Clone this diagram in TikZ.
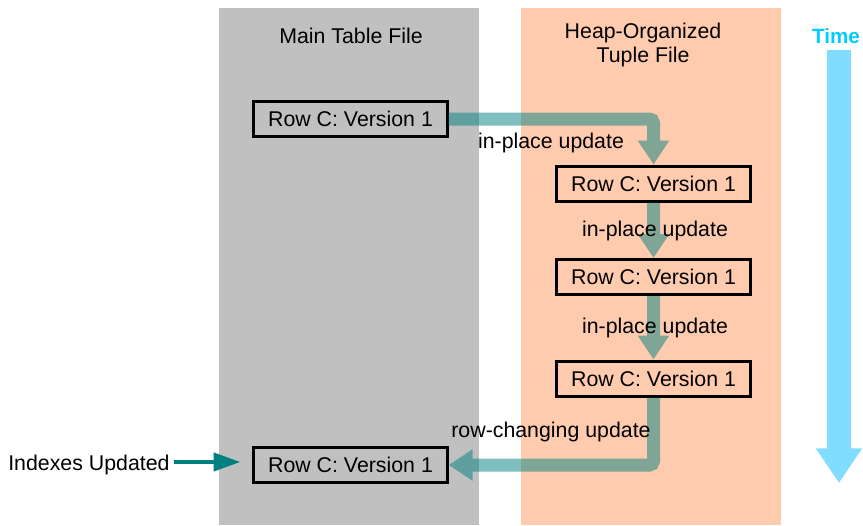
\documentclass[tikz,border=0pt]{standalone}
\usepackage{fontspec}
\setmainfont{Liberation Sans}
\usetikzlibrary{arrows.meta}
\definecolor{colgray}{HTML}{C0C0C0}
\definecolor{colpeach}{HTML}{FFCBAF}
\definecolor{tealc}{HTML}{008080}
\definecolor{timeblue}{HTML}{80DDFF}
\definecolor{timetext}{HTML}{00CCFF}
\begin{document}
\begin{tikzpicture}[x=0.75pt,y=-0.75pt,
  every node/.style={font=\fontsize{16}{18}\selectfont},
  rowbox/.style={draw=black,line width=2.25pt,minimum width=145pt,minimum height=26.25pt,inner sep=0pt},
  lbl/.style={inner sep=0pt},
  updarrow/.style={draw=tealc,line width=9.75pt,rounded corners=3pt,-{Triangle[length=18pt,width=22.5pt]}},
  idxarrow/.style={draw=tealc,line width=3pt,-{Triangle[length=20pt,width=13.5pt]}},
  timearrow/.style={draw=timeblue,line width=18pt,-{Triangle[length=26pt,width=33pt]}}]
\useasboundingbox (0,0) rectangle (863,525);
% columns
\fill[colgray] (219,8) rectangle (479,525);
\fill[colpeach] (521,8) rectangle (781,525);
\node[lbl] (hmain) at (351,36) {Main Table File};
\node[lbl,align=center] (hheap) at (643,45) {Heap-Organized\\Tuple File};
% time
\node[lbl,font=\fontsize{15.5}{18}\selectfont\bfseries,text=timetext] (time) at (836,36) {Time};
\coordinate (ttop) at (839,50);
\coordinate (tbot) at (839,483);
\draw[timearrow] (ttop) -- (tbot);
% boxes
\node[rowbox] (b1) at (350.5,119) {Row C: Version 1};
\node[rowbox] (b2) at (653.5,183.5) {Row C: Version 1};
\node[rowbox] (b3) at (653.5,277) {Row C: Version 1};
\node[rowbox] (b4) at (653.5,378.5) {Row C: Version 1};
\node[rowbox] (b5) at (350.5,465) {Row C: Version 1};
% update arrows
\begin{scope}[transparency group,opacity=0.5]
\draw[updarrow] (b1.east) -| (b2.north);
\end{scope}
\begin{scope}[transparency group,opacity=0.5]
\draw[updarrow] (b2.south) -- (b3.north);
\end{scope}
\begin{scope}[transparency group,opacity=0.5]
\draw[updarrow] (b3.south) -- (b4.north);
\end{scope}
\begin{scope}[transparency group,opacity=0.5]
\draw[updarrow] (b4.south) |- (b5.east);
\end{scope}
\node[lbl] (l1) at (551,143) {in-place update};
\node[lbl] (l2) at (655,231) {in-place update};
\node[lbl] (l3) at (655,328) {in-place update};
\node[lbl] (l4) at (551,432) {row-changing update};
% indexes
\node[lbl,anchor=west] (idx) at (8,465) {Indexes Updated};
\draw[idxarrow,shorten <=3.4pt,shorten >=9pt] (idx.east |- 0,462) -- (b5.west |- 0,462);
\end{tikzpicture}
\end{document}
